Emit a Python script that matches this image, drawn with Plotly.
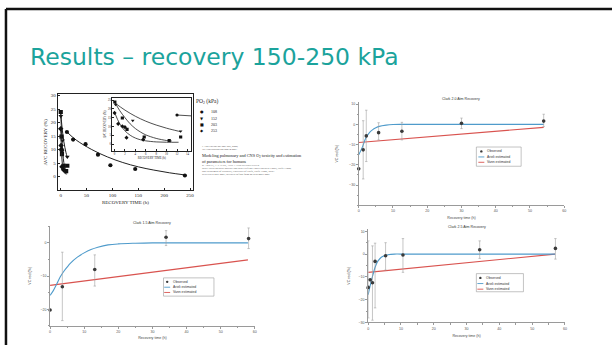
import plotly.graph_objects as go

W, H = 614, 347
def fx(p): return p / W
def fy(p): return 1 - p / H

# ---------------- DATA ----------------
# Panel 1 (Arieli et al.): AVC recovery vs recovery time, grouped by PO2 (kPa)
po2_labels = ["108", "152", "203", "253"]
rec_t_108 = [12, 24, 48, 72, 96, 144, 240]
rec_v_108 = [16.5, 13.7, 12.0, 8.1, 4.2, 2.8, 0.4]
rec_t_152 = [0.2, 3.5, 12.7]
rec_v_152 = [22.4, 13.3, 7.3]
rec_t_203 = [0.06, 1.5, 2.4, 5.7, 10.5, 12.7]
rec_v_203 = [23.9, 14.8, 8.3, 4.0, 2.0, 4.0]
rec_t_253 = [0.0, 0.7, 1.5, 2.0, 2.3, 5.5]
rec_v_253 = [17.7, 11.5, 10.1, 9.6, 3.6, 2.5]
# fitted curves
fit_t_108 = [12, 30, 60, 90, 120, 150, 180, 210, 240]
fit_v_108 = [16.5, 13.5, 10.0, 7.3, 5.2, 3.6, 2.4, 1.4, 0.6]
fit_t_152 = [0, 2, 4, 6, 8, 10, 12, 12.7]
fit_v_152 = [23.5, 19.3, 15.8, 13.0, 10.8, 9.0, 7.5, 7.0]
fit_t_203 = [0, 1, 2, 3, 4, 5, 6, 8, 10, 11]
fit_v_203 = [24, 19, 15, 11.5, 8.8, 6.8, 5.2, 3.2, 2.0, 1.7]
fit_t_253 = [0, 1, 2, 3, 4, 5, 6, 8, 10, 12.3]
fit_v_253 = [18, 11.5, 7.5, 5.0, 3.4, 2.4, 1.8, 1.2, 1.0, 1.0]

# Clark 2.0 Atm
c20_t = [0, 1.3, 2.2, 5.8, 12.6, 30, 54]
c20_v = [-22, -12.6, -5.7, -4.1, -3.4, 0.5, 1.6]
c20_err_hi = [0, 14.4, 12.7, 4.9, 4.4, 2.6, 3.4]
c20_err_lo = [0, 14.4, 12.7, 3.6, 4.3, 2.6, 2.7]
c20_arieli_t = [0, 1, 2, 3, 4, 5, 6, 8, 10, 12, 54]
c20_arieli_v = [-15, -11.5, -7.0, -4.3, -2.7, -1.7, -1.0, -0.4, -0.1, 0, 0]
c20_vann_t = [0, 54]
c20_vann_v = [-9.0, -1.5]

# Clark 1.5 Atm
c15_t = [0, 3.6, 13.1, 34, 58.2]
c15_v = [-20.2, -13.2, -8.0, 1.7, 1.3]
c15_err_hi = [0, 10.4, 4.4, 2.0, 3.2]
c15_err_lo = [0, 10.2, 5.0, 2.5, 3.0]
c15_arieli_t = [0, 1, 2, 3, 4, 5, 6, 8, 10, 12, 14, 17, 20, 25, 30, 58]
c15_arieli_v = [-15.8, -14.3, -12.3, -10.2, -8.6, -7.3, -6.1, -4.3, -3.0, -2.0, -1.3, -0.6, -0.3, -0.1, 0, 0]
c15_vann_t = [0, 58]
c15_vann_v = [-12.8, -5.1]

# Clark 2.5 Atm
c25_t = [0, 0.6, 1.3, 2.1, 5.3, 10.6, 34, 57.1]
c25_v = [-14.6, -11.3, -12.6, -3.2, -0.7, -0.4, 1.9, 2.5]
c25_err_hi = [20.4, 0, 16.2, 8.0, 5.7, 7.2, 3.9, 4.3]
c25_err_lo = [13.4, 0, 16.4, 20.4, 6.3, 7.6, 3.8, 4.7]
c25_arieli_t = [0, 0.5, 1, 1.5, 2, 2.5, 3, 4, 5, 6, 8, 10, 57]
c25_arieli_v = [-17.8, -14.5, -11.5, -8.8, -6.2, -4.3, -3.0, -1.4, -0.7, -0.3, 0, 0, 0]
c25_vann_t = [0, 57]
c25_vann_v = [-8.0, 0.0]

legend_names = ["Observed", "Arieli estimated", "Vann estimated"]

# ---------------- STYLE ----------------
TEAL = "#1ba39c"
BLUE = "#4f9bcb"
RED = "#d9534f"
DOT = "#3a3a3a"
ERR = "#a0a0a0"
AX = "#9a9a9a"
serif = "Liberation Serif"
sans = "Liberation Sans"

fig = go.Figure()

# ---- panel 1 (main + inset) ----
groups = [
    (po2_labels[0], rec_t_108, rec_v_108, "circle", fit_t_108, fit_v_108),
    (po2_labels[1], rec_t_152, rec_v_152, "triangle-down", fit_t_152, fit_v_152),
    (po2_labels[2], rec_t_203, rec_v_203, "square", fit_t_203, fit_v_203),
    (po2_labels[3], rec_t_253, rec_v_253, "diamond", fit_t_253, fit_v_253),
]
for name, tx, vy, sym, ft, fv in groups:
    for xa, ya, size, lw in [("x", "y", 4.2, 1.0), ("x2", "y2", 3.2, 0.8)]:
        fig.add_trace(go.Scatter(x=ft, y=fv, mode="lines",
                                 line=dict(color="#222", width=lw, shape="spline"),
                                 xaxis=xa, yaxis=ya, showlegend=False, hoverinfo="skip"))
        fig.add_trace(go.Scatter(x=tx, y=vy, mode="markers", name=name + " kPa",
                                 marker=dict(symbol=sym, size=size, color="#111"),
                                 xaxis=xa, yaxis=ya, showlegend=False))

# ---- Clark panels ----
def clark(xa, ya, t, v, ehi, elo, at, av, vt, vv):
    fig.add_trace(go.Scatter(x=vt, y=vv, mode="lines", name=legend_names[2],
                             line=dict(color=RED, width=1.1), xaxis=xa, yaxis=ya,
                             showlegend=False))
    fig.add_trace(go.Scatter(x=at, y=av, mode="lines", name=legend_names[1],
                             line=dict(color=BLUE, width=1.1, shape="spline"),
                             xaxis=xa, yaxis=ya, showlegend=False))
    fig.add_trace(go.Scatter(x=t, y=v, mode="markers", name=legend_names[0],
                             marker=dict(color=DOT, size=3.6),
                             error_y=dict(type="data", array=ehi, arrayminus=elo,
                                          color=ERR, thickness=0.6, width=1.2),
                             xaxis=xa, yaxis=ya, showlegend=False, cliponaxis=False))

clark("x3", "y3", c20_t, c20_v, c20_err_hi, c20_err_lo, c20_arieli_t, c20_arieli_v, c20_vann_t, c20_vann_v)
clark("x4", "y4", c15_t, c15_v, c15_err_hi, c15_err_lo, c15_arieli_t, c15_arieli_v, c15_vann_t, c15_vann_v)
clark("x5", "y5", c25_t, c25_v, c25_err_hi, c25_err_lo, c25_arieli_t, c25_arieli_v, c25_vann_t, c25_vann_v)

# ---------------- AXES ----------------
def paper_axis(**kw):
    d = dict(showline=True, linecolor="#222", linewidth=0.8, mirror=True, ticks="inside",
             ticklen=2, tickwidth=0.6, tickcolor="#222", showgrid=False, zeroline=False,
             tickfont=dict(family=serif, size=5, color="#222"))
    d.update(kw)
    return d

def clark_axis(tv, **kw):
    d = dict(showline=True, linecolor=AX, linewidth=0.7, ticks="outside", ticklen=2,
             tickwidth=0.6, tickcolor=AX, showgrid=False, zeroline=False,
             tickmode="array", tickvals=tv,
             tickfont=dict(family=sans, size=3.6, color="#555"),
             minor=dict(ticks="outside", ticklen=1.2, tickwidth=0.5, tickcolor=AX,
                        tickmode="linear", tick0=0, dtick=5, showgrid=False))
    d.update(kw)
    return d

xt = [0, 10, 20, 30, 40, 50, 60]
ttl = dict(family=sans, size=3.6, color="#444")
fig.update_layout(
    xaxis=paper_axis(domain=[fx(57), fx(193)], range=[-5.8, 255.8], tickvals=[0, 50, 100, 150, 200, 250],
                     title=dict(text="RECOVERY TIME (h)", font=dict(family=serif, size=5, color="#222"), standoff=3)),
    yaxis=paper_axis(domain=[fy(191), fy(94)], range=[-5.1, 30.5], tickvals=[0, 5, 10, 15, 20, 25, 30],
                     title=dict(text="AVC RECOVERY (%)", font=dict(family=serif, size=5, color="#222"), standoff=3)),
    xaxis2=paper_axis(domain=[fx(112), fx(191)], range=[-0.4, 14.7], anchor="y2",
                      tickvals=[0, 2, 4, 6, 8, 10, 12, 14], ticklen=1.5,
                      tickfont=dict(family=serif, size=3, color="#222"),
                      title=dict(text="RECOVERY TIME (h)", font=dict(family=serif, size=3, color="#222"), standoff=1)),
    yaxis2=paper_axis(domain=[fy(151), fy(98)], range=[-3.8, 26.1], anchor="x2",
                      tickvals=[0, 5, 10, 15, 20, 25], ticklen=1.5,
                      tickfont=dict(family=serif, size=3, color="#222"),
                      title=dict(text="AVC RECOVERY (%)", font=dict(family=serif, size=3, color="#222"), standoff=1)),
    xaxis3=clark_axis(xt, domain=[fx(359.5), fx(566)], range=[0, 60], anchor="y3",
                      title=dict(text="Recovery time (h)", font=ttl, standoff=4)),
    yaxis3=clark_axis([-30, -20, -10, 0, 10], domain=[fy(206), fy(102)], range=[-40, 11], anchor="x3",
                      title=dict(text="VC red (%)", font=ttl, standoff=10)),
    xaxis4=clark_axis(xt, domain=[fx(49.3), fx(255)], range=[0, 60], anchor="y4",
                      title=dict(text="Recovery time (h)", font=ttl, standoff=3)),
    yaxis4=clark_axis([-20, -10, 0], domain=[fy(327.75), fy(226.6)], range=[-25, 5.2], anchor="x4",
                      title=dict(text="VC red (%)", font=ttl, standoff=9)),
    xaxis5=clark_axis(xt, domain=[fx(369), fx(566.7)], range=[0, 60], anchor="y5",
                      title=dict(text="Recovery time (h)", font=ttl, standoff=4)),
    yaxis5=clark_axis([-30, -20, -10, 0, 10], domain=[fy(324.3), fy(230)], range=[-30, 11], anchor="x5",
                      title=dict(text="VC red (%)", font=ttl, standoff=8)),
)

# ---------------- DECORATION ----------------
shapes = []
ann = []

# slide border (top and left)
shapes.append(dict(type="line", xref="paper", yref="paper", x0=fx(5), x1=fx(614), y0=fy(8), y1=fy(8),
                   line=dict(color="#111", width=2.5)))
shapes.append(dict(type="line", xref="paper", yref="paper", x0=fx(5), x1=fx(5), y0=fy(8), y1=fy(347),
                   line=dict(color="#111", width=2.5)))

def text(px, py, s, size, family=sans, color="#333", xanchor="left", yanchor="middle"):
    ann.append(dict(x=fx(px), y=fy(py), xref="paper", yref="paper", text=s, showarrow=False,
                    xanchor=xanchor, yanchor=yanchor, borderpad=0,
                    font=dict(family=family, size=size, color=color)))

# slide title
text(28, 56, "Results – recovery 150-250 kPa", 23.5, family="DejaVu Sans", color=TEAL)

# panel titles
text(462.5, 102, "Clark 2.0 Atm Recovery", 3.6, color="#333", xanchor="center", yanchor="bottom")
text(152, 227, "Clark 1.5 Atm Recovery", 3.6, color="#333", xanchor="center", yanchor="bottom")
text(468, 230.5, "Clark 2.5 Atm Recovery", 3.6, color="#333", xanchor="center", yanchor="bottom")

# Clark legends
def clark_legend(box, rows, sym_x, txt_x):
    x0, y0, x1, y1 = box
    shapes.append(dict(type="rect", xref="paper", yref="paper", x0=fx(x0), x1=fx(x1), y0=fy(y1), y1=fy(y0),
                       line=dict(color="#9a9a9a", width=0.6), fillcolor="white"))
    r = 1.2
    shapes.append(dict(type="circle", xref="paper", yref="paper", x0=fx(sym_x - r), x1=fx(sym_x + r),
                       y0=fy(rows[0] + r), y1=fy(rows[0] - r), fillcolor=DOT, line=dict(width=0)))
    for row, col in [(rows[1], BLUE), (rows[2], RED)]:
        shapes.append(dict(type="line", xref="paper", yref="paper", x0=fx(sym_x - 3), x1=fx(sym_x + 3),
                           y0=fy(row), y1=fy(row), line=dict(color=col, width=0.9)))
    for row, nm in zip(rows, legend_names):
        text(txt_x, row, nm, 3.4, color="#333")

clark_legend((477.7, 147.3, 522.7, 166.7), [151.7, 157.3, 162.7], 482.7, 487)
clark_legend((163.3, 279.3, 214, 297.7), [283.3, 288.7, 294], 167, 171.5)
clark_legend((477.7, 275, 525, 293.3), [279.3, 285, 290.7], 481.7, 486.5)

# panel 1 legend (PO2)
text(195, 101.7, "PO<sub>2</sub> (kPa)", 5.5, family=serif, color="#222")
for row, glyph, lab in zip([111.7, 118.3, 124.3, 130.3], ["●", "▼", "■", "◆"], po2_labels):
    text(201.5, row, glyph, 4, family="DejaVu Sans", color="#111", xanchor="center")
    text(210, row, lab, 4, family=serif, color="#222")

# paper header text
text(201, 146.3, "J Appl Physiol 92: 248–256, 2002;", 2.6, family=serif, color="#555")
text(201, 149.3, "10.1152/japplphysiol.00434.2001.", 2.6, family=serif, color="#555")
text(201, 156.8, "Modeling pulmonary and CNS O<sub>2</sub> toxicity and estimation", 4.3, family=serif, color="#222")
text(201, 161.8, "of parameters for humans", 4.3, family=serif, color="#222")
text(201, 165.6, "R. ARIELI, A. YALOV, AND A. GOLDENSHLUGER", 2.6, family=serif, color="#444")
text(201, 168.6, "Israel Naval Medical Institute and Israel Defense Forces Medical Corps, Haifa 31080;", 2.6, family=serif, color="#555")
text(201, 171.6, "and Department of Statistics, University of Haifa, Haifa 31905, Israel", 2.6, family=serif, color="#555")
text(201, 174.6, "Received 2 May 2001; accepted in final form 20 September 2001", 2.6, family=serif, color="#555")

fig.update_layout(
    width=W, height=H, margin=dict(l=0, r=0, t=0, b=0),
    paper_bgcolor="white", plot_bgcolor="white",
    showlegend=False, shapes=shapes, annotations=ann,
    font=dict(family=sans, color="#333"),
)

fig.write_html("out.html", config={"displayModeBar": False},
               post_script="document.body.style.margin='0px';document.body.style.overflow='hidden';")
